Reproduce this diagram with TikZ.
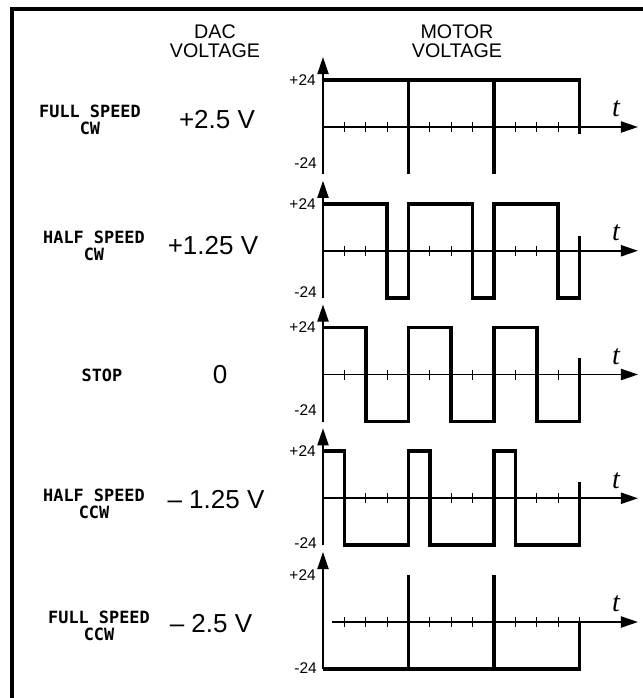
\documentclass[tikz,border=0pt]{standalone}
\usepackage{fontspec}
\setmainfont{Liberation Sans}
\newfontfamily\stencilfont{DejaVu Sans Mono}
\newfontfamily\timefont{Liberation Serif}
\usetikzlibrary{arrows.meta}

\begin{document}
\begin{tikzpicture}[
  x=0.25mm, y=-0.25mm,
  frame/.style={line width=1mm},
  header/.style={align=center, font=\fontsize{14}{13.5}\selectfont},
  mode/.style={align=center, font=\stencilfont\bfseries\fontsize{12}{12}\selectfont},
  dac/.style={font=\fontsize{18.5}{18.5}\selectfont},
  level/.style={anchor=east, inner sep=0pt, font=\fontsize{11}{11}\selectfont},
  tlabel/.style={font=\timefont\itshape\fontsize{20}{20}\selectfont},
  axis/.style={line width=0.45mm, -{Triangle[length=4.3mm, width=2.8mm]}},
  tickmark/.style={line width=0.3mm},
  wave/.style={line width=0.9mm},
]
\useasboundingbox (0,0) rectangle (643,698);
\draw[frame] (660,9) -- (12,9) -- (12,710);

% column headers
\node[header] (dachead) at (215,41.5) {DAC\\VOLTAGE};
\node[header] (motorhead) at (457,41.5) {MOTOR\\VOLTAGE};

% operating modes
\node[mode] (fullcw) at (90,120) {FULL SPEED\\CW};
\node[mode] (halfcw) at (94,246) {HALF SPEED\\CW};
\node[mode] (stop) at (102,375) {STOP};
\node[mode] (halfccw) at (94,504) {HALF SPEED\\CCW};
\node[mode] (fullccw) at (99,626) {FULL SPEED\\CCW};

% DAC voltages
\node[dac] (vfullcw) at (217,120) {+2.5 V};
\node[dac] (vhalfcw) at (213,246) {+1.25 V};
\node[dac] (vstop) at (220,375) {0};
\node[dac] (vhalfccw) at (216,500) {\textendash\ 1.25 V};
\node[dac] (vfullccw) at (211,624) {\textendash\ 2.5 V};

% axes of the motor voltage plots
\foreach \y/\xs/\lo [count=\i] in {127/323/163, 250.75/323/292, 374.5/323/410, 498.25/323/543, 622/332/668} {
  \draw[axis] (323,\y+47) -- (323,\y-70);
  \draw[axis] (\xs,\y) -- (638,\y);
  \foreach \k in {1,...,12}
    \draw[tickmark] ({323+21.375*\k},\y-5) -- ({323+21.375*\k},\y+5);
  \node[level] (plus\i) at (316,\y-47) {+24};
  \node[level] (minus\i) at (317,\lo) {-24};
  \node[tlabel] (t\i) at (616,\y-18) {t};
}

% full speed cw
\begin{scope}[shift={(323,127)}, x=5.34375mm, y=11.75mm]
  \draw[wave] (0,1) -- (12,1) -- (12,-0.15);
  \draw[wave] (4,1) -- (4,-1) (8,1) -- (8,-1);
\end{scope}

% half speed cw
\begin{scope}[shift={(323,250.75)}, x=5.34375mm, y=11.75mm]
  \draw[wave] (0,1) -- (3,1) -- (3,-1) -- (4,-1) -- (4,1) -- (7,1) -- (7,-1) -- (8,-1)
    -- (8,1) -- (11,1) -- (11,-1) -- (12,-1) -- (12,0.32);
\end{scope}

% stop
\begin{scope}[shift={(323,374.5)}, x=5.34375mm, y=11.75mm]
  \draw[wave] (0,1) -- (2,1) -- (2,-1) -- (4,-1) -- (4,1) -- (6,1) -- (6,-1) -- (8,-1)
    -- (8,1) -- (10,1) -- (10,-1) -- (12,-1) -- (12,0.36);
\end{scope}

% half speed ccw
\begin{scope}[shift={(323,498.25)}, x=5.34375mm, y=11.75mm]
  \draw[wave] (0,1) -- (1,1) -- (1,-1) -- (4,-1) -- (4,1) -- (5,1) -- (5,-1) -- (8,-1)
    -- (8,1) -- (9,1) -- (9,-1) -- (12,-1) -- (12,0.34);
\end{scope}

% full speed ccw
\begin{scope}[shift={(323,622)}, x=5.34375mm, y=11.75mm]
  \draw[wave] (0,-1) -- (12,-1) -- (12,0);
  \draw[wave] (4,-1) -- (4,1) (8,-1) -- (8,1);
\end{scope}
\end{tikzpicture}
\end{document}
